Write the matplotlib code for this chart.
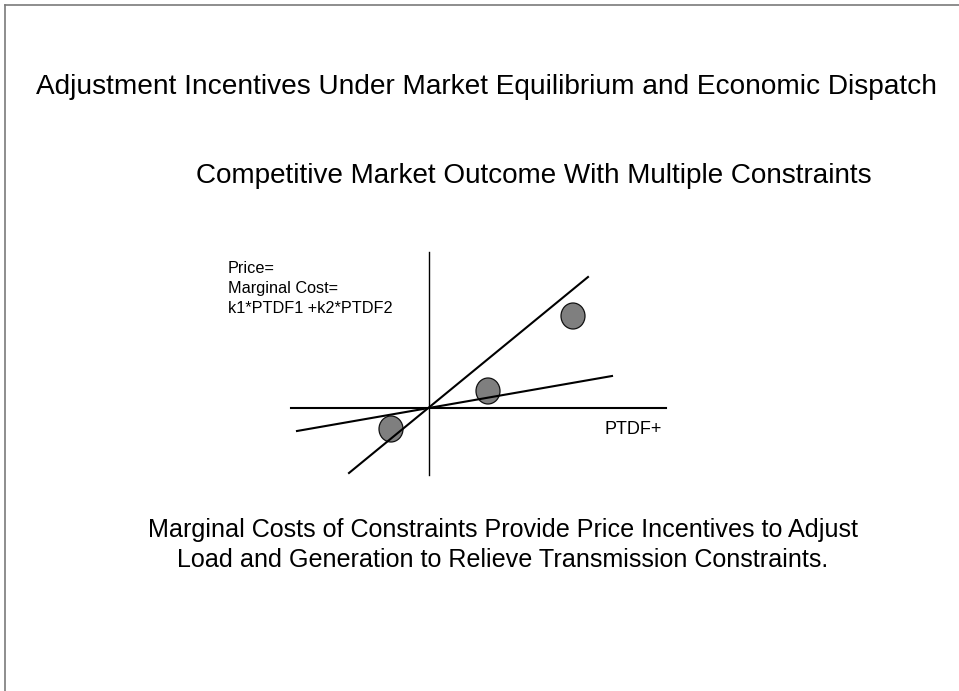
import matplotlib
matplotlib.use("Agg")
import matplotlib.pyplot as plt
from matplotlib.patches import Ellipse

plt.rcParams['font.family'] = ['Liberation Sans', 'DejaVu Sans']

# slide text
title_main = "Adjustment Incentives Under Market Equilibrium and Economic Dispatch"
title_sub = "Competitive Market Outcome With Multiple Constraints"
footer_lines = ["Marginal Costs of Constraints Provide Price Incentives to Adjust",
                "Load and Generation to Relieve Transmission Constraints."]
y_label_lines = ["Price=", "Marginal Cost=", "k1*PTDF1 +k2*PTDF2"]
x_label = "PTDF+"

# diagram values (origin = axis crossing)
haxis_x = [-1.38, 2.37]
vaxis_y = [-0.67, 1.56]
steep_x = [-0.80, 1.59]
steep_y = [-0.65, 1.31]
shallow_x = [-1.32, 1.83]
shallow_y = [-0.23, 0.32]
points_x = [1.44, 0.59, -0.38]
points_y = [0.92, 0.17, -0.21]

W, H = 959, 691
fig = plt.figure(figsize=(W / 100, H / 100), dpi=100)

# page layer in pixel units
page = fig.add_axes([0, 0, 1, 1])
page.set_xlim(0, W)
page.set_ylim(H, 0)
page.axis('off')

# slide border (top and left edges)
page.plot([5, W], [5, 5], color='#7a7a7a', lw=1.2)
page.plot([5, 5], [5, H], color='#7a7a7a', lw=1.2)

page.text(486.5, 94, title_main, ha='center', va='baseline', fontsize=20.2)
page.text(534, 183, title_sub, ha='center', va='baseline', fontsize=20.1)
page.text(503, 537, footer_lines[0], ha='center', va='baseline', fontsize=18.1)
page.text(503, 567, footer_lines[1], ha='center', va='baseline', fontsize=18.1)

for i, line in enumerate(y_label_lines):
    page.text(228, 273 + 20 * i, line, ha='left', va='baseline', fontsize=11.7)
page.text(605, 434, x_label, ha='left', va='baseline', fontsize=13)

# diagram axes: 1 data unit = 100 px, origin at (429, 408)
left, right, top, bottom = 280, 680, 240, 490
ax = fig.add_axes([left / W, (H - bottom) / H, (right - left) / W, (bottom - top) / H])
ax.set_xlim((left - 429) / 100, (right - 429) / 100)
ax.set_ylim((408 - bottom) / 100, (408 - top) / 100)
ax.axis('off')

for px, py in zip(points_x, points_y):
    ax.add_patch(Ellipse((px, py), 0.24, 0.26, facecolor='#7f7f7f',
                         edgecolor='#111111', lw=0.9, zorder=2))

ax.plot(haxis_x, [0, 0], color='black', lw=1.5, zorder=3)
ax.plot([0, 0], vaxis_y, color='black', lw=1.0, zorder=3)
ax.plot(steep_x, steep_y, color='black', lw=1.5, zorder=3)
ax.plot(shallow_x, shallow_y, color='black', lw=1.5, zorder=3)

fig.savefig('out.png', dpi=100)
